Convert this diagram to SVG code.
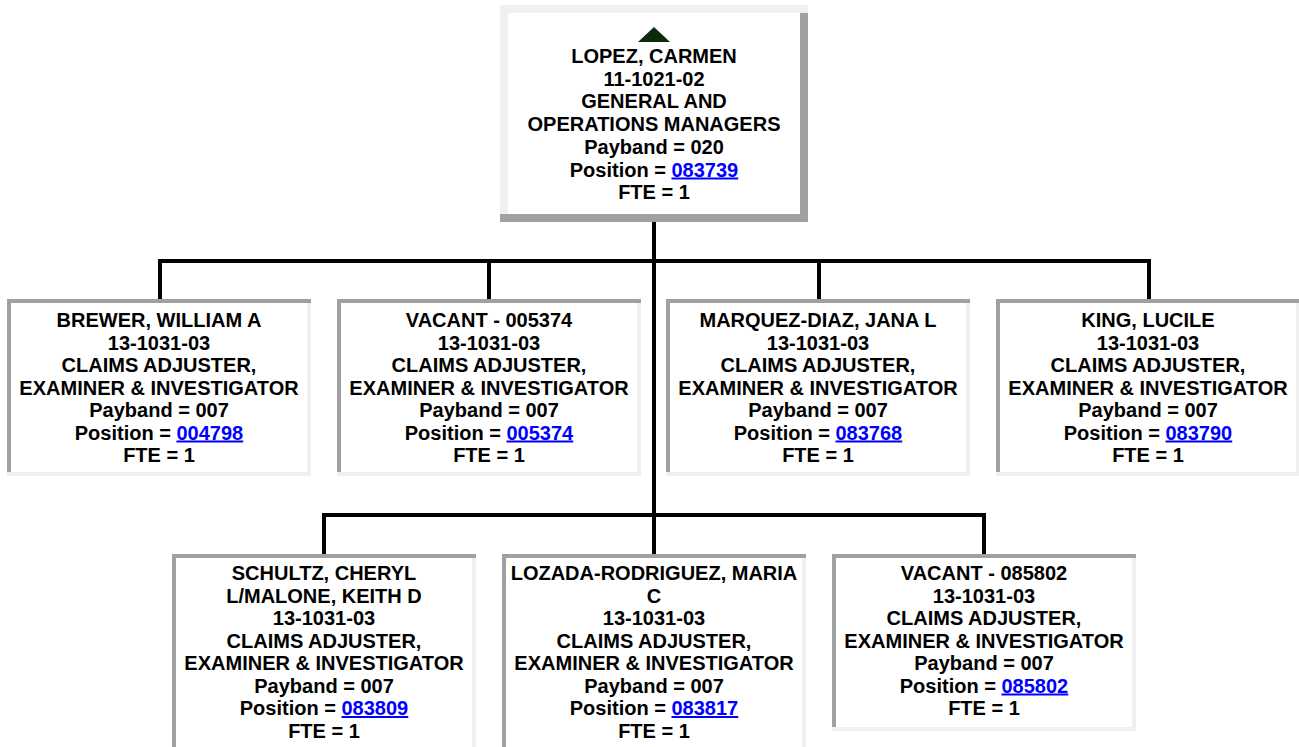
<svg xmlns="http://www.w3.org/2000/svg" width="1299" height="747" viewBox="0 0 1299 747">
<style>
.t{font-family:"Liberation Sans",Arial,sans-serif;font-weight:bold;font-size:20px;fill:#000;text-anchor:middle}
.lk{fill:#0000ff;text-decoration:underline}
.dk{fill:#a0a0a0}
.lt{fill:#efefef}
.in{fill:#fff}
.cn{stroke:#000;stroke-width:4;fill:none;stroke-linecap:square}
</style>
<rect width="1299" height="747" fill="#fff"/>
<g id="connectors">
<path class="cn" d="M654 224V552"/>
<path class="cn" d="M160 261H1149M160 261V297M489 261V297M819 261V297M1149 261V297"/>
<path class="cn" d="M324 515H984M324 515V552M984 515V552"/>
</g>
<g id="n0">
<rect class="dk" x="500" y="5" width="308" height="217"/>
<rect class="lt" x="500" y="5" width="308" height="8"/>
<rect class="lt" x="500" y="5" width="8" height="209"/>
<rect class="in" x="508" y="13" width="292" height="201"/>
<polygon points="638,42 654,27 670,42" fill="#0d2a0d"/>
<text class="t" x="654" y="63">LOPEZ, CARMEN</text>
<text class="t" x="654" y="85.7">11-1021-02</text>
<text class="t" x="654" y="108.4">GENERAL AND</text>
<text class="t" x="654" y="131.1">OPERATIONS MANAGERS</text>
<text class="t" x="654" y="153.8">Payband = 020</text>
<text class="t" x="654" y="176.5">Position = <tspan class="lk">083739</tspan></text>
<text class="t" x="654" y="199.2">FTE = 1</text>
</g>
<g id="n1">
<rect class="lt" x="7" y="299" width="304" height="177"/>
<rect class="dk" x="7" y="299" width="304" height="4"/>
<rect class="dk" x="7" y="299" width="4" height="173"/>
<rect class="in" x="11" y="303" width="296" height="169"/>
<text class="t" x="159" y="327">BREWER, WILLIAM A</text>
<text class="t" x="159" y="349.5">13-1031-03</text>
<text class="t" x="159" y="372">CLAIMS ADJUSTER,</text>
<text class="t" x="159" y="394.5">EXAMINER &amp; INVESTIGATOR</text>
<text class="t" x="159" y="417">Payband = 007</text>
<text class="t" x="159" y="439.5">Position = <tspan class="lk">004798</tspan></text>
<text class="t" x="159" y="462">FTE = 1</text>
</g>
<g id="n2">
<rect class="lt" x="337" y="299" width="304" height="177"/>
<rect class="dk" x="337" y="299" width="304" height="4"/>
<rect class="dk" x="337" y="299" width="4" height="173"/>
<rect class="in" x="341" y="303" width="296" height="169"/>
<text class="t" x="489" y="327">VACANT - 005374</text>
<text class="t" x="489" y="349.5">13-1031-03</text>
<text class="t" x="489" y="372">CLAIMS ADJUSTER,</text>
<text class="t" x="489" y="394.5">EXAMINER &amp; INVESTIGATOR</text>
<text class="t" x="489" y="417">Payband = 007</text>
<text class="t" x="489" y="439.5">Position = <tspan class="lk">005374</tspan></text>
<text class="t" x="489" y="462">FTE = 1</text>
</g>
<g id="n3">
<rect class="lt" x="666" y="299" width="304" height="177"/>
<rect class="dk" x="666" y="299" width="304" height="4"/>
<rect class="dk" x="666" y="299" width="4" height="173"/>
<rect class="in" x="670" y="303" width="296" height="169"/>
<text class="t" x="818" y="327">MARQUEZ-DIAZ, JANA L</text>
<text class="t" x="818" y="349.5">13-1031-03</text>
<text class="t" x="818" y="372">CLAIMS ADJUSTER,</text>
<text class="t" x="818" y="394.5">EXAMINER &amp; INVESTIGATOR</text>
<text class="t" x="818" y="417">Payband = 007</text>
<text class="t" x="818" y="439.5">Position = <tspan class="lk">083768</tspan></text>
<text class="t" x="818" y="462">FTE = 1</text>
</g>
<g id="n4">
<rect class="lt" x="996" y="299" width="304" height="177"/>
<rect class="dk" x="996" y="299" width="304" height="4"/>
<rect class="dk" x="996" y="299" width="4" height="173"/>
<rect class="in" x="1000" y="303" width="296" height="169"/>
<text class="t" x="1148" y="327">KING, LUCILE</text>
<text class="t" x="1148" y="349.5">13-1031-03</text>
<text class="t" x="1148" y="372">CLAIMS ADJUSTER,</text>
<text class="t" x="1148" y="394.5">EXAMINER &amp; INVESTIGATOR</text>
<text class="t" x="1148" y="417">Payband = 007</text>
<text class="t" x="1148" y="439.5">Position = <tspan class="lk">083790</tspan></text>
<text class="t" x="1148" y="462">FTE = 1</text>
</g>
<g id="n5">
<rect class="lt" x="172" y="554" width="304" height="200"/>
<rect class="dk" x="172" y="554" width="304" height="4"/>
<rect class="dk" x="172" y="554" width="4" height="196"/>
<rect class="in" x="176" y="558" width="296" height="192"/>
<text class="t" x="324" y="580">SCHULTZ, CHERYL</text>
<text class="t" x="324" y="602.5">L/MALONE, KEITH D</text>
<text class="t" x="324" y="625">13-1031-03</text>
<text class="t" x="324" y="647.5">CLAIMS ADJUSTER,</text>
<text class="t" x="324" y="670">EXAMINER &amp; INVESTIGATOR</text>
<text class="t" x="324" y="692.5">Payband = 007</text>
<text class="t" x="324" y="715">Position = <tspan class="lk">083809</tspan></text>
<text class="t" x="324" y="737.5">FTE = 1</text>
</g>
<g id="n6">
<rect class="lt" x="502" y="554" width="304" height="200"/>
<rect class="dk" x="502" y="554" width="304" height="4"/>
<rect class="dk" x="502" y="554" width="4" height="196"/>
<rect class="in" x="506" y="558" width="296" height="192"/>
<text class="t" x="654" y="580">LOZADA-RODRIGUEZ, MARIA</text>
<text class="t" x="654" y="602.5">C</text>
<text class="t" x="654" y="625">13-1031-03</text>
<text class="t" x="654" y="647.5">CLAIMS ADJUSTER,</text>
<text class="t" x="654" y="670">EXAMINER &amp; INVESTIGATOR</text>
<text class="t" x="654" y="692.5">Payband = 007</text>
<text class="t" x="654" y="715">Position = <tspan class="lk">083817</tspan></text>
<text class="t" x="654" y="737.5">FTE = 1</text>
</g>
<g id="n7">
<rect class="lt" x="832" y="554" width="304" height="177"/>
<rect class="dk" x="832" y="554" width="304" height="4"/>
<rect class="dk" x="832" y="554" width="4" height="173"/>
<rect class="in" x="836" y="558" width="296" height="169"/>
<text class="t" x="984" y="580">VACANT - 085802</text>
<text class="t" x="984" y="602.5">13-1031-03</text>
<text class="t" x="984" y="625">CLAIMS ADJUSTER,</text>
<text class="t" x="984" y="647.5">EXAMINER &amp; INVESTIGATOR</text>
<text class="t" x="984" y="670">Payband = 007</text>
<text class="t" x="984" y="692.5">Position = <tspan class="lk">085802</tspan></text>
<text class="t" x="984" y="715">FTE = 1</text>
</g>
</svg>
